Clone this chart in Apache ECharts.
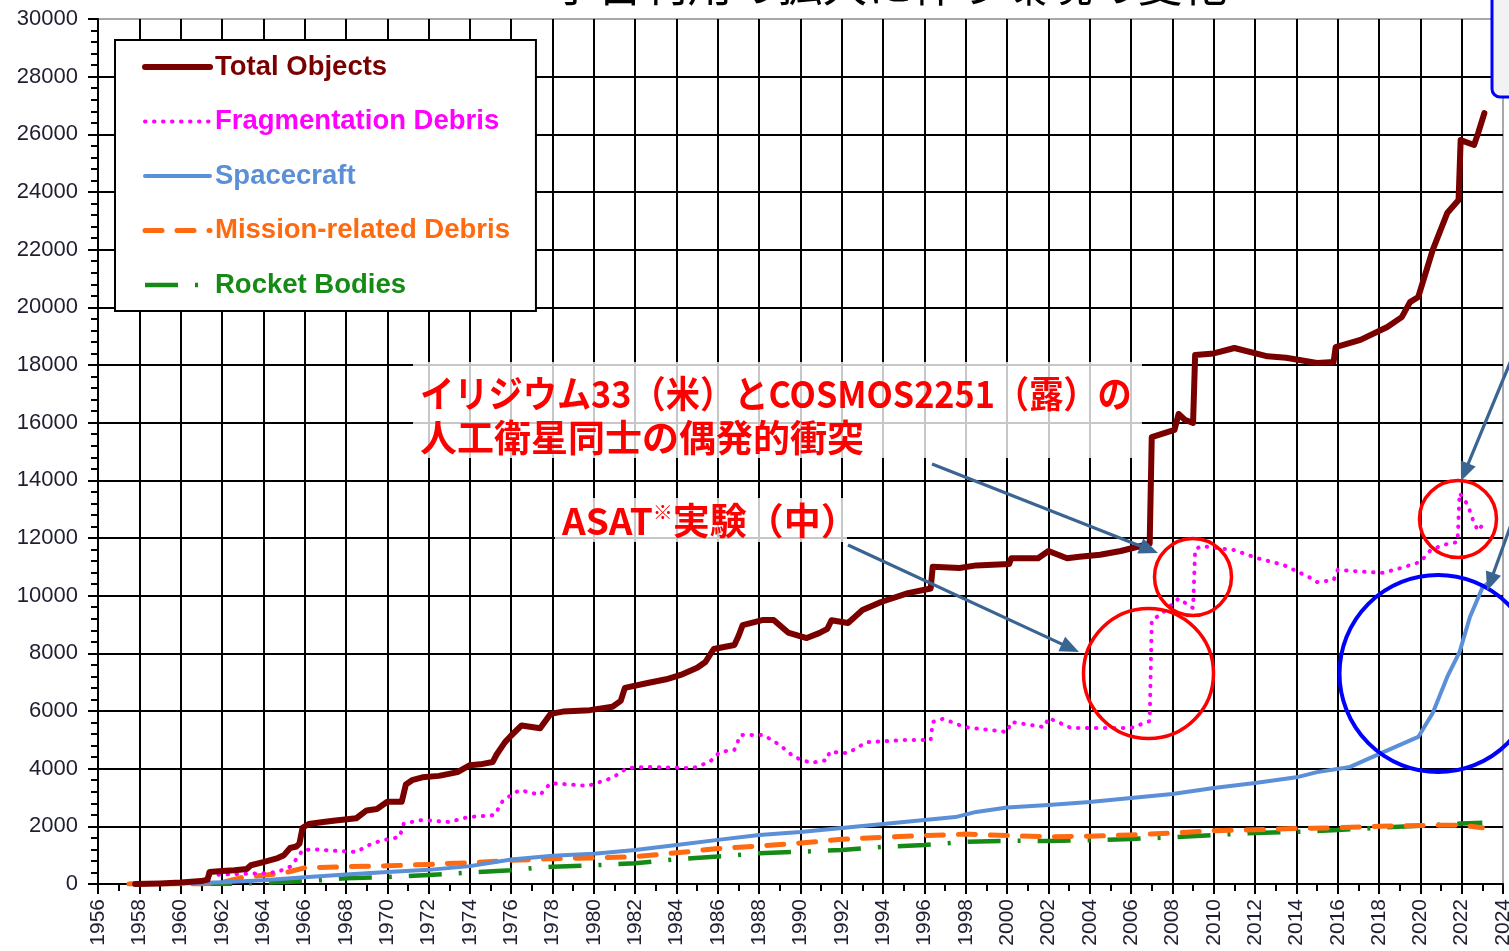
<!DOCTYPE html>
<html>
<head>
<meta charset="utf-8">
<script src="https://cdn.jsdelivr.net/npm/echarts@6/dist/echarts.min.js"></script>
<style>
html,body{margin:0;padding:0;background:#fff;}
#chart{width:1509px;height:951px;}
</style>
</head>
<body>
<div id="chart"></div>
<script>
// ---- Data (year, number of catalogued objects) ----
const seriesNames = ['Total Objects','Fragmentation Debris','Spacecraft','Mission-related Debris','Rocket Bodies'];

const totalObjects = [
 [1957.8,0],[1959,20],[1960,50],[1961,100],[1961.3,150],[1961.4,420],[1962,450],[1962.6,480],[1963.2,520],
 [1963.4,650],[1964,760],[1964.7,900],[1965.0,1000],[1965.3,1250],[1965.6,1300],[1965.75,1400],[1965.9,1950],
 [1966.2,2080],[1966.9,2150],[1967.5,2200],[1968.5,2280],[1969.0,2550],[1969.5,2600],[1970.0,2850],[1970.7,2850],
 [1970.9,3450],[1971.2,3600],[1971.7,3700],[1972.5,3750],[1973.4,3880],[1974.0,4120],[1974.5,4150],[1975.1,4230],
 [1975.3,4500],[1975.7,4920],[1976.0,5150],[1976.5,5500],[1977.4,5400],[1977.9,5900],[1978.5,5980],[1979.8,6030],
 [1980.9,6150],[1981.3,6350],[1981.5,6800],[1982.6,6970],[1983.5,7100],[1984.2,7250],[1985.0,7500],[1985.4,7700],
 [1985.8,8150],[1986.8,8290],[1987.0,8600],[1987.2,8980],[1988.2,9160],[1988.7,9160],[1989.4,8720],[1990.3,8530],
 [1990.9,8700],[1991.3,8850],[1991.5,9150],[1992.3,9050],[1993.0,9500],[1993.9,9780],[1995.2,10090],[1996.3,10250],
 [1996.4,11000],[1997.7,10960],[1998.5,11050],[2000.1,11100],[2000.2,11300],[2001.5,11300],[2002.0,11550],
 [2002.9,11300],[2003.5,11350],[2004.5,11420],[2005.5,11550],[2006.9,11800],[2007.0,15500],[2008.1,15750],
 [2008.3,16300],[2008.6,16100],[2009.0,15990],[2009.1,18350],[2010.0,18400],[2011.0,18590],[2012.6,18300],
 [2013.5,18250],[2015.0,18070],[2015.8,18100],[2015.9,18620],[2017.1,18870],[2018.4,19320],[2019.1,19660],
 [2019.5,20180],[2019.9,20360],[2020.6,21990],[2021.3,23270],[2021.85,23720],[2021.95,25800],[2022.6,25630],
 [2022.8,26050],[2023.1,26740]
];

const fragmentationDebris = [
 [1961.4,300],[1962,330],[1963,350],[1964.3,380],[1964.8,450],[1965.3,600],[1965.7,950],[1965.9,1180],[1966.5,1200],
 [1967.5,1150],[1968.5,1110],[1969.3,1420],[1970.0,1550],[1970.6,1630],[1970.8,2100],[1971.7,2220],[1973.0,2150],
 [1973.9,2320],[1975.2,2390],[1975.6,2900],[1976.4,3260],[1977.4,3090],[1977.9,3500],[1979.2,3430],[1979.7,3400],
 [1980.9,3680],[1981.6,4020],[1982.6,4060],[1984.8,4020],[1985.6,4230],[1986.1,4580],[1986.8,4650],[1987.1,5170],
 [1988.2,5170],[1989.0,4820],[1989.7,4400],[1990.5,4200],[1991.3,4300],[1991.4,4580],[1992.3,4540],[1993.2,4920],
 [1995.0,4990],[1996.3,4990],[1996.4,5620],[1996.9,5730],[1997.7,5510],[1998.0,5440],[2000.0,5270],[2000.2,5620],
 [2001.8,5440],[2002.0,5760],[2003.1,5410],[2006.0,5410],[2006.9,5650],[2007.0,9160],[2007.4,9330],[2008.3,9900],
 [2009.0,9570],[2009.1,11600],[2009.4,11720],[2011.0,11580],[2012.1,11300],[2013.4,11060],[2014.7,10610],
 [2015.0,10470],[2015.8,10540],[2016.0,10890],[2017.5,10820],[2018.2,10790],[2019.2,10990],[2020.0,11170],
 [2020.5,11580],[2021.1,11760],[2021.8,11860],[2021.9,13560],[2022.3,13140],[2022.6,12520],[2022.8,12250],[2023.0,12450]
];

const spacecraft = [
 [1957.8,0],[1960,20],[1962,60],[1964,130],[1966,230],[1968,330],[1970,420],[1972,490],[1974,620],[1976,850],
 [1978,980],[1980,1050],[1982,1180],[1984,1350],[1986,1530],[1988,1700],[1990,1800],[1992,1940],[1994,2080],
 [1996,2220],[1997.5,2320],[1998.5,2500],[2000,2650],[2002,2740],[2004,2840],[2006,2980],[2008,3120],[2010,3330],
 [2012,3500],[2014,3700],[2015,3880],[2016.6,4060],[2018.1,4540],[2019.9,5100],[2020.6,5930],[2021.3,7180],
 [2021.9,8050],[2022.4,9260],[2023.0,10270],[2023.2,10400]
];

const missionDebris = [
 [1957.5,0],[1961,0],[1962,60],[1963,230],[1964,300],[1965,380],[1966,560],[1968,600],[1970,630],[1972,680],
 [1974,740],[1976,820],[1978,880],[1980,900],[1982,950],[1984,1080],[1986,1230],[1988,1320],[1990,1420],[1992,1550],
 [1994,1620],[1996,1680],[1998,1730],[2000,1680],[2002,1640],[2004,1660],[2006,1700],[2008,1770],[2010,1850],
 [2012,1880],[2014,1930],[2016,1950],[2018,2000],[2020,2030],[2022,2040],[2023,1950]
];

const rocketBodies = [
 [1957.5,0],[1962,0],[1963,20],[1964,40],[1965,70],[1966,100],[1967,140],[1968,200],[1970,240],[1972,310],
 [1974,400],[1976,480],[1977.5,580],[1978,600],[1980,650],[1982,720],[1984,860],[1986,950],[1988,1070],[1990,1120],
 [1992,1180],[1994,1290],[1996,1350],[1998,1460],[2000,1500],[2002,1490],[2004,1520],[2006,1560],[2008,1620],
 [2010,1700],[2012,1770],[2014,1810],[2016,1870],[2018,1950],[2020,2020],[2022,2100],[2023,2120]
];

const titleText = '宇宙利用の拡大に伴う環境の変化';
const note1Lines = ['イリジウム33（米）とCOSMOS2251（露）の','人工衛星同士の偶発的衝突'];
const note2Text = 'ASAT{s|※}実験（中）';

// ---- Styles ----
const colors = {
  total:'#7a0000', frag:'#ff00ff', sc:'#5b8fd8', mission:'#ff6a10', rocket:'#168a16'
};
const ARROW = '#3a6491';
const LABEL_COLOR = '#1e1e32';

function lineSeries(name, data, color, width, dash, cap, z){
  return {
    name, type:'line', data, symbol:'none', showSymbol:false, z, silent:true,
    lineStyle:{color, width, type:dash, cap:cap||'butt', join:'round'},
    itemStyle:{color}, emphasis:{disabled:true}, animation:false
  };
}

function arrow(x1,y1,x2,y2){
  const dx=x2-x1, dy=y2-y1, L=Math.hypot(dx,dy), ux=dx/L, uy=dy/L;
  const hl=19, hw=8;
  const bx=x2-ux*hl, by=y2-uy*hl;
  return [
    {type:'line', z:100, shape:{x1,y1,x2:bx+ux*2,y2:by+uy*2}, style:{stroke:ARROW, lineWidth:3.2}},
    {type:'polygon', z:100, shape:{points:[[x2,y2],[bx-uy*hw,by+ux*hw],[bx+uy*hw,by-ux*hw]]}, style:{fill:ARROW}}
  ];
}

const chart = echarts.init(document.getElementById('chart'), null, {renderer:'canvas'});

const axisCommon = {
  axisLine:{show:true, onZero:false, lineStyle:{color:'#000', width:2}},
  axisTick:{show:true, length:10, lineStyle:{color:'#000', width:2}},
  splitLine:{show:true, showMinLine:false, showMaxLine:false, lineStyle:{color:'#000', width:2}}
};

const noteFont = 'bold 37px "Noto Sans CJK JP"';
const hiddenSym = {opacity:0, color:'rgba(0,0,0,0)', borderWidth:0};

chart.setOption({
  animation:false,
  backgroundColor:'#fff',
  grid:{left:98, right:6, top:19, bottom:67, show:true, borderColor:'#a8a8a8', borderWidth:2, outerBoundsMode:'none', containLabel:false},
  xAxis:Object.assign({
    type:'value', min:1956, max:2024, interval:2,
    minorTick:{show:true, splitNumber:2, length:7, lineStyle:{color:'#000', width:2}},
    axisLabel:{rotate:90, margin:15, fontSize:21, fontFamily:'Liberation Sans', color:LABEL_COLOR,
      formatter:v=>String(v), showMinLabel:true, showMaxLabel:true}
  }, axisCommon),
  yAxis:Object.assign({
    type:'value', min:0, max:30000, interval:2000,
    minorTick:{show:true, splitNumber:5, length:7, lineStyle:{color:'#000', width:2}},
    axisLabel:{margin:20, fontSize:22, fontFamily:'Liberation Sans', color:LABEL_COLOR, formatter:v=>String(v)}
  }, axisCommon),
  legend:{
    left:115, top:40, orient:'vertical', selectedMode:false,
    padding:[12,26,11,27], itemGap:24.5, itemWidth:65, itemHeight:14,
    backgroundColor:'#fff', borderColor:'#000', borderWidth:2, borderRadius:0,
    lineStyle:{width:'inherit'},
    itemStyle:hiddenSym,
    textStyle:{fontSize:27.5, fontWeight:'bold', fontFamily:'Liberation Sans', lineHeight:30},
    data:[
      {name:seriesNames[0], itemStyle:hiddenSym, textStyle:{color:colors.total}},
      {name:seriesNames[1], itemStyle:hiddenSym, textStyle:{color:colors.frag}},
      {name:seriesNames[2], itemStyle:hiddenSym, textStyle:{color:colors.sc}},
      {name:seriesNames[3], itemStyle:hiddenSym, textStyle:{color:colors.mission}},
      {name:seriesNames[4], itemStyle:hiddenSym, textStyle:{color:colors.rocket}}
    ]
  },
  series:[
    lineSeries(seriesNames[4], rocketBodies, colors.rocket, 4.5, [33,17,3,17], 'butt', 3),
    lineSeries(seriesNames[3], missionDebris, colors.mission, 5, [17,15], 'round', 4),
    lineSeries(seriesNames[2], spacecraft, colors.sc, 4, 'solid', 'round', 5),
    lineSeries(seriesNames[1], fragmentationDebris, colors.frag, 4, [0.5,8.5], 'round', 6),
    lineSeries(seriesNames[0], totalObjects, colors.total, 6, 'solid', 'round', 7)
  ],
  graphic:[
    // cut-off title at the very top
    {type:'text', z:100, x:890, y:-15, style:{text:titleText, font:'45px "Noto Sans CJK JP"', fill:'#000',
      textAlign:'center', textVerticalAlign:'middle', align:'center', verticalAlign:'middle'}},
    // top-right callout box (cut off)
    {type:'rect', z:100, shape:{x:1492, y:-12, width:40, height:109, r:8}, style:{fill:'#f2f2f2', stroke:'#0000ff', lineWidth:3}},
    // note 1 background + text
    {type:'rect', z:99, shape:{x:413, y:362, width:729, height:96}, style:{fill:'rgba(255,255,255,0.78)'}},
    {type:'text', z:100, x:420, y:394, scaleX:0.925, style:{text:note1Lines[0], font:noteFont, fill:'#ff0000',
      textAlign:'left', textVerticalAlign:'middle', align:'left', verticalAlign:'middle'}},
    {type:'text', z:100, x:420, y:438, style:{text:note1Lines[1], font:noteFont, fill:'#ff0000',
      textAlign:'left', textVerticalAlign:'middle', align:'left', verticalAlign:'middle'}},
    // note 2 background + text
    {type:'rect', z:99, shape:{x:555, y:498, width:292, height:44}, style:{fill:'rgba(255,255,255,0.78)'}},
    {type:'text', z:100, x:562, y:521, style:{text:note2Text, font:noteFont, fill:'#ff0000',
      textAlign:'left', textVerticalAlign:'middle', align:'left', verticalAlign:'middle',
      rich:{s:{fontSize:20, fontWeight:'bold', fontFamily:'Noto Sans CJK JP', fill:'#ff0000', color:'#ff0000', verticalAlign:'top', padding:[0,0,14,0]}}}},
    // circles
    {type:'circle', z:100, shape:{cx:1148.5, cy:673.5, r:65}, style:{fill:'none', stroke:'#ff0000', lineWidth:3.5}},
    {type:'circle', z:100, shape:{cx:1193, cy:577, r:38.5}, style:{fill:'none', stroke:'#ff0000', lineWidth:3.5}},
    {type:'circle', z:100, shape:{cx:1458, cy:519, r:38.5}, style:{fill:'none', stroke:'#ff0000', lineWidth:3.5}},
    {type:'circle', z:100, shape:{cx:1438, cy:673.5, r:98.5}, style:{fill:'none', stroke:'#0000ff', lineWidth:4}},
    // arrows
    ...arrow(932, 464, 1158, 553),
    ...arrow(848, 545, 1079, 652),
    ...arrow(1512, 358, 1461, 481),
    ...arrow(1512, 522, 1487, 591)
  ]
});
</script>
</body>
</html>
